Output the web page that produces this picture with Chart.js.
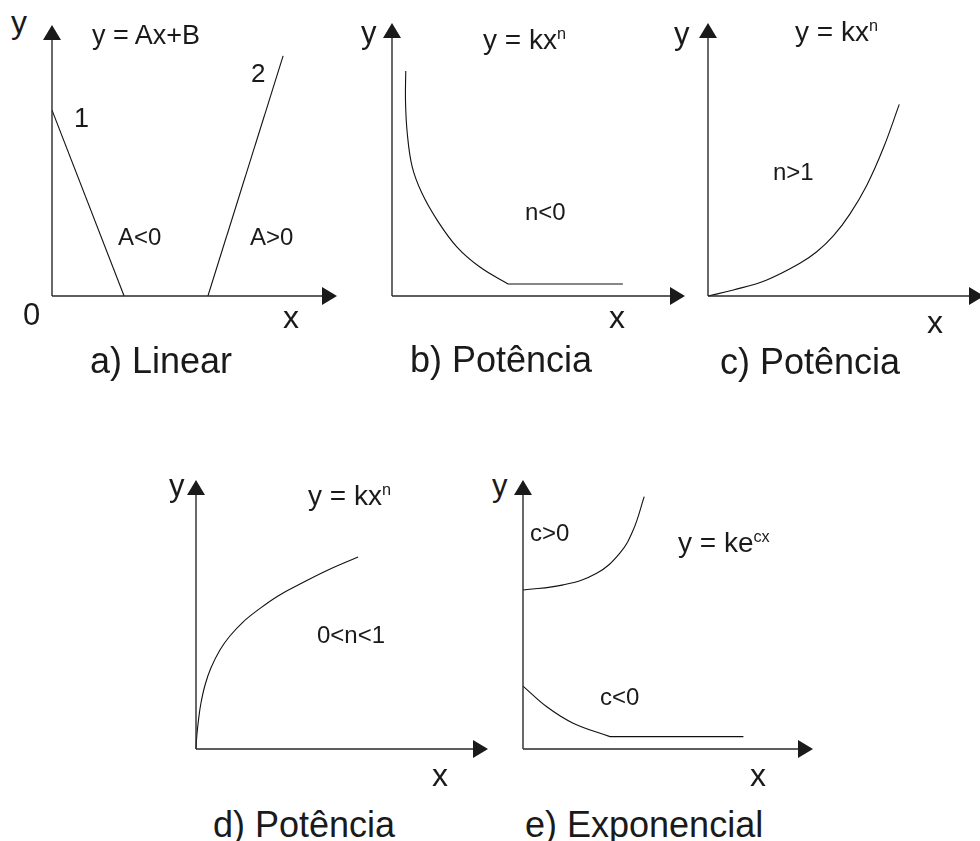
<!DOCTYPE html>
<html lang="pt">
<head>
  <meta charset="UTF-8">
  <title>Tipos de funções</title>
  <script src="https://cdn.jsdelivr.net/npm/chart.js"></script>
  <style>
    html, body {
      margin: 0;
      padding: 0;
      background: #fff;
    }
    body {
      width: 980px;
      height: 841px;
      position: relative;
      overflow: hidden;
      font-family: "Liberation Sans", Arial, sans-serif;
      color: #1a1a1a;
    }
    canvas {
      position: absolute;
    }
    .lbl {
      position: absolute;
      white-space: nowrap;
    }
    .lbl sup {
      line-height: 0;
      font-size: 0.58em;
      vertical-align: 0.62em;
    }
  </style>
</head>
<body>

  <canvas id="chartA"></canvas>
  <canvas id="chartB"></canvas>
  <canvas id="chartC"></canvas>
  <canvas id="chartD"></canvas>
  <canvas id="chartE"></canvas>

  <script>
    // every axis runs 0..10 in its own units
    // a) Linear
    const line1X = [0, 2.53];
    const line1Y = [6.86, 0];
    const line2X = [5.47, 8.11];
    const line2Y = [0, 8.86];

    // b) Potência, n<0
    const powNegX = [0.47, 0.46, 0.52, 0.69, 1.02, 1.54, 2.22, 3.00, 3.96];
    const powNegY = [8.24, 7.18, 5.97, 4.73, 3.77, 2.78, 1.79, 1.06, 0.44];
    const powNegTailX = [3.96, 7.88];
    const powNegTailY = [0.44, 0.44];

    // c) Potência, n>1
    const powBigX = [0, 0.92, 2.13, 3.33, 3.94, 4.54, 5.14, 5.75, 6.35, 6.93];
    const powBigY = [0, 0.22, 0.59, 1.20, 1.62, 2.20, 3.00, 4.05, 5.41, 7.02];

    // d) Potência, 0<n<1
    const powFracX = [0, 0.03, 0.09, 0.17, 0.31, 0.51, 0.82, 1.16, 1.61, 2.16, 2.81, 3.56, 4.45, 5.55];
    const powFracY = [0, 0.52, 1.12, 1.71, 2.38, 3.01, 3.68, 4.20, 4.72, 5.20, 5.69, 6.13, 6.62, 7.14];

    // e) Exponencial
    const expPosX = [0, 1.39, 2.54, 3.34, 3.80, 4.18];
    const expPosY = [5.91, 6.10, 6.53, 7.28, 8.14, 9.38];
    const expNegX = [0, 0.82, 1.73, 3.00];
    const expNegY = [2.34, 1.57, 0.96, 0.46];
    const expNegTailX = [3.00, 7.60];
    const expNegTailY = [0.46, 0.46];

    function pts(xs, ys) {
      return xs.map((x, i) => ({ x: x, y: ys[i] }));
    }

    // draws the two axes with filled arrow heads
    const arrowAxes = {
      id: 'arrowAxes',
      afterDraw(chart) {
        const { ctx, chartArea } = chart;
        const { left, right, top, bottom } = chartArea;
        const len = 15, half = 9;
        ctx.save();
        ctx.strokeStyle = '#2a2a2a';
        ctx.fillStyle = '#1a1a1a';
        ctx.lineWidth = 1.4;
        ctx.beginPath();
        ctx.moveTo(left, bottom);
        ctx.lineTo(right - len, bottom);
        ctx.moveTo(left, bottom);
        ctx.lineTo(left, top + len);
        ctx.stroke();
        ctx.beginPath();
        ctx.moveTo(right, bottom);
        ctx.lineTo(right - len, bottom - half);
        ctx.lineTo(right - len, bottom + half);
        ctx.closePath();
        ctx.fill();
        ctx.beginPath();
        ctx.moveTo(left, top);
        ctx.lineTo(left - half, top + len);
        ctx.lineTo(left + half, top + len);
        ctx.closePath();
        ctx.fill();
        ctx.restore();
      }
    };

    function curve(data, smooth) {
      return {
        data: data,
        showLine: true,
        borderColor: '#111',
        borderWidth: 1.1,
        pointRadius: 0,
        tension: smooth ? 0.4 : 0,
        clip: false
      };
    }

    // origin of the axes, arrow tips
    function makePanel(id, ox, oy, xTip, yTip, datasets) {
      const canvas = document.getElementById(id);
      const padL = 12, padB = 12, padT = 2, padR = 2;
      canvas.width = xTip - ox + padL + padR;
      canvas.height = oy - yTip + padT + padB;
      canvas.style.left = (ox - padL) + 'px';
      canvas.style.top = (yTip - padT) + 'px';
      return new Chart(canvas, {
        type: 'scatter',
        data: { datasets: datasets },
        options: {
          responsive: false,
          animation: false,
          events: [],
          layout: { padding: { left: padL, right: padR, top: padT, bottom: padB } },
          plugins: { legend: { display: false }, tooltip: { enabled: false } },
          scales: {
            x: { type: 'linear', min: 0, max: 10, display: false },
            y: { type: 'linear', min: 0, max: 10, display: false }
          }
        },
        plugins: [arrowAxes]
      });
    }

    makePanel('chartA', 52, 296, 337, 25, [
      curve(pts(line1X, line1Y), false),
      curve(pts(line2X, line2Y), false)
    ]);
    makePanel('chartB', 392, 296, 685, 23, [
      curve(pts(powNegX, powNegY), true),
      curve(pts(powNegTailX, powNegTailY), false)
    ]);
    makePanel('chartC', 708, 296, 984, 23, [
      curve(pts(powBigX, powBigY), true)
    ]);
    makePanel('chartD', 196, 749, 488, 480, [
      curve(pts(powFracX, powFracY), true)
    ]);
    makePanel('chartE', 523, 749, 813, 480, [
      curve(pts(expPosX, expPosY), true),
      curve(pts(expNegX, expNegY), true),
      curve(pts(expNegTailX, expNegTailY), false)
    ]);

    // text: [html, left, baseline, size]
    const labels = [
      ['y', 11, 33, 32],
      ['y = Ax+B', 92, 45, 27],
      ['1', 74, 128, 27],
      ['2', 251, 82, 26],
      ['A&lt;0', 118, 245, 24],
      ['A&gt;0', 250, 245, 24],
      ['0', 23, 325, 31],
      ['x', 283, 328, 32],
      ['a) Linear', 90, 373, 36],

      ['y', 361, 43, 31],
      ['y = kx<sup>n</sup>', 483, 50, 28],
      ['n&lt;0', 525, 220, 24],
      ['x', 609, 328, 32],
      ['b) Potência', 410, 372, 36],

      ['y', 674, 44, 31],
      ['y = kx<sup>n</sup>', 795, 42, 28],
      ['n&gt;1', 773, 180, 24],
      ['x', 927, 333, 32],
      ['c) Potência', 720, 374, 36],

      ['y', 169, 496, 31],
      ['y = kx<sup>n</sup>', 308, 506, 28],
      ['0&lt;n&lt;1', 317, 643, 24],
      ['x', 432, 786, 32],
      ['d) Potência', 213, 837, 36],

      ['y', 492, 496, 31],
      ['c&gt;0', 530, 541, 24],
      ['y = ke<sup>cx</sup>', 678, 553, 28],
      ['c&lt;0', 600, 705, 24],
      ['x', 750, 786, 32],
      ['e) Exponencial', 525, 837, 36]
    ];

    labels.forEach(([html, left, base, size]) => {
      const div = document.createElement('div');
      div.className = 'lbl';
      div.innerHTML = html;
      div.style.fontSize = size + 'px';
      div.style.lineHeight = size + 'px';
      div.style.left = left + 'px';
      div.style.top = (base - 0.8465 * size) + 'px';
      document.body.appendChild(div);
    });
  </script>
</body>
</html>
